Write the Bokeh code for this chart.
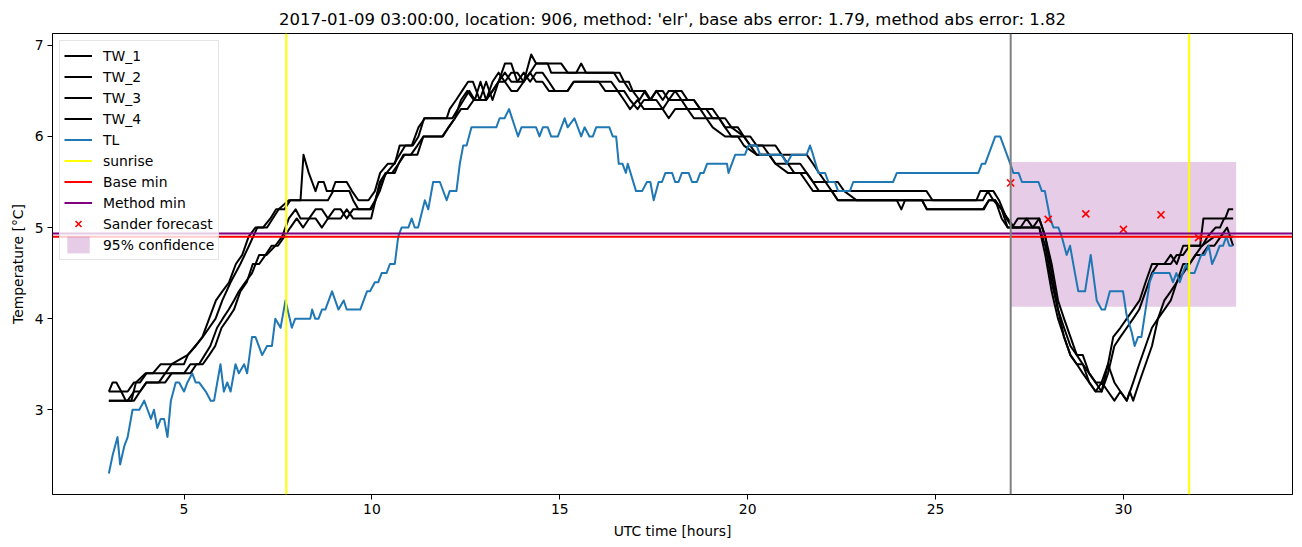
from bokeh.plotting import figure
from bokeh.models import Range1d, Span, Legend, LegendItem, FixedTicker
from bokeh.embed import file_html
from bokeh.resources import INLINE

TITLE = "2017-01-09 03:00:00, location: 906, method: 'elr', base abs error: 1.79, method abs error: 1.82"
X_LABEL = "UTC time [hours]"
Y_LABEL = "Temperature [°C]"

# (UTC hour, temperature)
TL = [(3.0,2.3),(3.1,2.5),(3.23,2.7),(3.3,2.4),(3.41,2.6),(3.5,2.7),(3.63,3.0),(3.81,3.0),(3.94,3.1),(4.03,3.0),
      (4.12,2.9),(4.2,3.0),(4.29,2.8),(4.38,2.9),(4.47,2.9),(4.56,2.7),(4.65,3.1),(4.78,3.3),(4.87,3.3),(5.0,3.2),
      (5.09,3.3),(5.22,3.4),(5.31,3.3),(5.4,3.3),(5.58,3.2),(5.71,3.1),(5.8,3.1),(5.97,3.5),(6.06,3.2),(6.15,3.3),
      (6.24,3.2),(6.37,3.5),(6.46,3.4),(6.6,3.5),(6.68,3.4),(6.81,3.8),(6.9,3.8),(7.08,3.6),(7.21,3.7),(7.34,3.7),
      (7.43,4.0),(7.57,3.9),(7.7,4.2),(7.87,3.9),(7.96,4.0),(8.36,4.0),(8.41,4.1),(8.49,4.0),(8.58,4.0),(8.67,4.1),
      (8.76,4.1),(8.94,4.3),(9.11,4.1),(9.25,4.2),(9.33,4.1),(9.69,4.1),(9.87,4.3),(9.95,4.3),
      (10.08,4.4),(10.17,4.4),(10.26,4.5),(10.39,4.5),(10.48,4.6),(10.61,4.6),(10.7,4.9),(10.79,5.0),(10.97,5.0),
      (11.06,5.1),(11.14,5.0),(11.23,5.0),(11.41,5.3),(11.5,5.2),(11.63,5.5),(11.81,5.5),(11.99,5.3),(12.07,5.4),
      (12.25,5.4),(12.34,5.7),(12.43,5.9),(12.52,5.9),(12.65,6.1),(13.31,6.1),(13.4,6.2),(13.53,6.2),(13.65,6.3),
      (13.89,6.0),(13.98,6.1),(14.37,6.1),(14.46,6.0),(14.55,6.1),(14.68,6.1),(14.77,6.0),(14.95,6.0),(15.13,6.2),
      (15.21,6.1),(15.39,6.2),(15.57,6.0),(15.66,6.1),(15.79,6.0),(15.88,6.0),(15.97,6.1),(16.32,6.1),(16.41,6.0),
      (16.5,6.0),(16.57,5.7),(16.67,5.7),(16.76,5.6),(16.81,5.7),(17.03,5.4),
      (17.19,5.4),(17.32,5.5),(17.41,5.5),(17.5,5.3),(17.63,5.5),(17.72,5.5),(17.81,5.6),(17.99,5.6),(18.07,5.5),
      (18.16,5.5),(18.25,5.6),(18.43,5.6),(18.52,5.5),(18.65,5.5),(18.74,5.6),(18.83,5.6),(18.92,5.7),(19.45,5.7),
      (19.49,5.6),(19.67,5.8),(19.93,5.8),(20.02,5.9),(20.24,5.9),(20.33,5.8),(20.91,5.8),(21.04,5.7),(21.17,5.8),
      (21.57,5.8),(21.66,5.9),(21.74,5.8),(21.88,5.6),(22.06,5.6),(22.15,5.5),(22.32,5.5),(22.41,5.4),(22.72,5.4),
      (22.81,5.5),(23.87,5.5),(23.97,5.6),
      (26.14,5.6),(26.23,5.7),(26.32,5.7),(26.59,6.0),(26.72,6.0),(26.99,5.7),(27.07,5.6),(27.21,5.6),(27.3,5.5),
      (27.74,5.5),(27.83,5.4),(27.91,5.4),(28.05,5.1),(28.14,5.0),(28.27,5.0),(28.36,4.9),(28.49,4.7),(28.58,4.8),
      (28.71,4.5),(28.8,4.3),(28.98,4.3),(29.13,4.7),(29.29,4.2),(29.42,4.1),(29.51,4.1),(29.64,4.3),(29.99,4.3),
      (30.08,4.05),(30.22,3.85),(30.3,3.7),(30.39,3.8),(30.48,3.8),(30.7,4.4),(30.79,4.5),(31.23,4.5),(31.32,4.4),
      (31.41,4.5),(31.5,4.4),(31.58,4.5),(31.67,4.6),(31.76,4.5),(31.89,4.5),(31.98,4.6),(32.07,4.7),(32.16,4.7),
      (32.27,4.8),(32.36,4.6),(32.47,4.7),(32.56,4.8),(32.65,4.8),(32.74,4.9),(32.82,4.8),(32.91,4.8)]

TW_1 = [(3.0,3.2),(3.1,3.3),(3.2,3.3),(3.33,3.2),(3.5,3.2),(3.67,3.3),(3.83,3.3),(4.0,3.4),(4.17,3.4),(4.38,3.5),
        (5.0,3.5),(5.1,3.6),(5.3,3.7),(5.5,3.8),(5.67,3.9),(5.84,4.0),(6.02,4.2),(6.24,4.4),(6.5,4.6),(6.73,4.8),
        (6.95,5.0),(7.21,5.0),(7.52,5.2),(7.79,5.3),(8.1,5.3),(8.18,5.8),(8.32,5.6),(8.41,5.5),(8.5,5.4),(8.58,5.5),
        (8.72,5.5),(8.8,5.4),(8.94,5.4),(9.03,5.5),(9.33,5.5),(9.47,5.4),(9.64,5.3),(9.91,5.3),
        (10.08,5.4),(10.22,5.6),(10.42,5.7),(10.61,5.7),(10.74,5.9),(11.06,5.9),(11.24,6.1),(11.41,6.2),(11.99,6.2),
        (12.07,6.3),(12.24,6.4),(12.4,6.5),(12.56,6.6),(12.69,6.6),(12.87,6.4),(13.04,6.6),(13.21,6.4),(13.37,6.6),
        (13.54,6.8),(13.71,6.8),(13.87,6.6),(14.04,6.6),(14.24,6.9),(14.37,6.8),(14.68,6.8),(14.77,6.7),(15.44,6.7),
        (15.57,6.8),(15.7,6.7),(16.59,6.7),(16.71,6.6),(16.84,6.6),(16.94,6.5),
        (17.12,6.4),(17.27,6.5),(17.42,6.4),(17.57,6.5),(17.74,6.4),(17.9,6.5),(18.24,6.5),(18.4,6.4),(18.57,6.4),
        (18.74,6.3),(19.07,6.3),(19.24,6.2),(19.4,6.1),(19.74,6.1),(19.9,6.0),(20.07,5.9),(20.4,5.9),(20.57,5.8),
        (20.9,5.8),(21.07,5.7),(21.4,5.7),(21.57,5.6),(21.74,5.5),(22.07,5.5),(22.24,5.4),
        (24.76,5.4),(24.92,5.3),(26.09,5.3),(26.19,5.4),(26.54,5.4),(26.69,5.3),(26.89,5.1),(27.04,5.0),(27.19,5.1),
        (27.76,5.1),(27.92,4.9),(28.09,4.6),(28.26,4.2),(28.42,4.0),(28.59,3.8),(28.76,3.6),(28.92,3.6),(29.09,3.4),
        (29.26,3.3),(29.42,3.3),(29.59,3.5),(29.73,3.8),(29.92,3.9),(30.09,4.0),(30.26,4.1),(30.43,4.2),(30.59,4.4),
        (30.76,4.6),(31.09,4.6),(31.26,4.7),(31.42,4.6),(31.59,4.8),(32.04,4.8),(32.13,5.1),(32.71,5.1),(32.8,5.2),
        (32.92,5.2)]

TW_2 = [(3.0,3.2),(3.33,3.2),(3.45,3.1),(3.6,3.1),(3.72,3.3),(3.98,3.4),(4.5,3.4),(4.67,3.5),(5.09,3.6),(5.31,3.7),
        (5.49,3.8),(5.67,4.0),(5.85,4.2),(6.02,4.3),(6.2,4.4),(6.38,4.6),(6.55,4.7),(6.72,4.9),(6.9,5.0),(7.1,5.0),
        (7.3,5.1),(7.45,5.2),(7.67,5.2),(7.83,5.3),(8.83,5.3),(8.97,5.4),(9.4,5.4),(9.5,5.3),(9.64,5.2),(9.95,5.2),
        (10.09,5.3),(10.24,5.5),(10.39,5.6),(10.59,5.7),(10.74,5.8),(10.89,5.9),(11.09,5.9),(11.24,6.0),(11.39,6.2),
        (11.94,6.2),(12.14,6.2),(12.29,6.3),(12.44,6.4),(12.59,6.5),(12.74,6.4),(12.89,6.6),(13.04,6.4),(13.21,6.6),
        (13.37,6.7),(13.54,6.6),(13.71,6.7),(13.87,6.7),(14.04,6.6),(14.21,6.7),(14.37,6.8),(15.04,6.8),(15.21,6.7),
        (16.44,6.7),(16.59,6.6),(16.71,6.6),(16.87,6.5),
        (17.24,6.5),(17.4,6.4),(17.57,6.5),(17.74,6.5),(17.9,6.4),(18.07,6.5),(18.24,6.4),(18.57,6.4),(18.74,6.3),
        (18.9,6.3),(19.07,6.2),(19.4,6.2),(19.57,6.1),(19.9,6.0),(20.07,6.0),(20.24,5.9),(20.74,5.9),(20.9,5.8),
        (21.57,5.8),(21.74,5.7),(21.9,5.6),(22.07,5.5),(22.4,5.5),(22.57,5.4),(22.9,5.3),
        (26.26,5.3),(26.39,5.4),(26.54,5.3),(26.76,5.2),(26.92,5.1),(27.09,5.0),(27.26,5.0),(27.42,5.1),(27.59,5.0),
        (27.76,5.1),(27.92,4.9),(28.09,4.5),(28.26,4.1),(28.42,3.9),(28.59,3.7),(28.76,3.6),(28.92,3.5),(29.09,3.4),
        (29.26,3.3),(29.42,3.2),(29.59,3.4),(29.76,3.7),(29.92,3.8),(30.09,3.9),(30.26,4.0),(30.42,4.1),(30.59,4.3),
        (30.76,4.5),(30.92,4.6),(31.26,4.6),(31.42,4.7),(31.59,4.7),(31.76,4.8),(32.1,4.8),(32.24,4.9),(32.45,5.0),
        (32.57,5.0),(32.68,5.1),(32.92,5.1)]

TW_3 = [(3.0,3.1),(3.5,3.1),(3.67,3.2),(3.83,3.2),(4.0,3.3),(4.33,3.3),(4.5,3.4),(5.0,3.4),(5.17,3.5),(5.4,3.5),
        (5.55,3.6),(5.7,3.7),(5.88,3.9),(6.03,4.0),(6.19,4.1),(6.33,4.2),(6.46,4.3),(6.63,4.4),(6.81,4.5),(7.0,4.7),
        (7.2,4.7),(7.43,4.8),(7.61,4.9),(7.79,5.1),(7.97,5.2),(8.1,5.1),(8.33,5.1),(8.5,5.2),(8.67,5.2),(8.83,5.1),
        (9.0,5.2),(9.17,5.2),(9.33,5.1),(9.5,5.2),(9.98,5.2),
        (10.21,5.4),(10.37,5.6),(10.61,5.6),(10.71,5.7),(10.84,5.8),(11.04,5.8),(11.21,5.9),(11.37,6.0),(11.89,6.0),
        (12.04,6.1),(12.21,6.2),(12.37,6.4),(12.54,6.5),(12.71,6.4),(13.04,6.4),(13.21,6.5),(13.37,6.6),(13.54,6.7),
        (13.71,6.6),(13.87,6.6),(14.04,6.7),(14.21,6.6),(14.37,6.7),(14.54,6.7),(14.71,6.6),(14.87,6.5),(15.21,6.5),
        (15.37,6.6),(16.37,6.6),(16.54,6.5),(16.71,6.5),(16.87,6.4),
        (17.07,6.3),(17.24,6.4),(17.57,6.4),(17.74,6.3),(17.9,6.4),(18.24,6.4),(18.4,6.3),(18.74,6.3),(18.9,6.2),
        (19.24,6.2),(19.4,6.1),(19.57,6.0),(19.9,6.0),(20.07,5.9),(20.24,5.8),(20.57,5.8),(20.74,5.7),(21.07,5.7),
        (21.24,5.6),(21.57,5.6),(21.74,5.5),(21.9,5.4),(22.24,5.4),(22.4,5.3),(23.97,5.3),
        (24.09,5.2),(24.19,5.3),(24.64,5.3),(24.77,5.2),(26.29,5.2),(26.42,5.3),(26.59,5.3),(26.76,5.2),(26.92,5.0),
        (27.76,5.0),(27.92,4.8),(28.09,4.4),(28.26,4.1),(28.42,3.8),(28.59,3.6),(28.76,3.5),(28.92,3.5),(29.09,3.3),
        (29.26,3.2),(29.42,3.2),(29.59,3.5),(29.76,3.3),(29.92,3.2),(30.09,3.1),(30.17,3.2),(30.26,3.1),(30.42,3.3),
        (30.59,3.5),(30.76,3.7),(30.92,4.0),(31.09,4.1),(31.26,4.2),(31.42,4.4),(31.59,4.5),(31.76,4.6),(31.92,4.7),
        (32.09,4.8),(32.42,4.9),(32.59,4.9),(32.76,5.0),(32.92,4.8)]

TW_4 = [(3.0,3.1),(3.67,3.1),(3.83,3.2),(4.0,3.3),(4.5,3.3),(4.67,3.4),(5.17,3.4),(5.33,3.5),(5.5,3.5),(5.67,3.6),
        (5.83,3.7),(6.0,3.9),(6.17,4.0),(6.33,4.1),(6.5,4.3),(6.67,4.4),(6.83,4.6),(7.0,4.6),(7.17,4.7),(7.33,4.8),
        (7.5,4.8),(7.67,4.9),(7.83,5.0),(8.0,5.1),(8.17,5.0),(8.33,5.1),(8.5,5.1),(8.67,5.0),(8.83,5.1),(9.17,5.1),
        (9.33,5.2),(9.5,5.1),(9.98,5.1),
        (10.21,5.5),(10.37,5.6),(10.54,5.6),(10.71,5.7),(10.87,5.8),(11.21,5.8),(11.37,6.0),(11.87,6.0),(12.04,6.1),
        (12.21,6.2),(12.37,6.3),(12.54,6.3),(12.71,6.4),(13.04,6.4),(13.21,6.5),(13.37,6.6),(13.54,6.6),(13.71,6.5),
        (13.87,6.5),(14.04,6.6),(14.21,6.7),(14.37,6.6),(14.54,6.6),(14.71,6.5),(15.21,6.5),(15.37,6.6),(16.04,6.6),
        (16.21,6.5),(16.54,6.5),(16.71,6.4),(16.87,6.3),
        (17.07,6.4),(17.24,6.3),(17.74,6.3),(17.9,6.2),(18.07,6.3),(18.4,6.3),(18.57,6.2),(18.9,6.2),(19.07,6.1),
        (19.4,6.0),(19.74,6.0),(19.9,5.9),(20.24,5.8),(20.57,5.8),(20.74,5.7),(21.07,5.6),(21.4,5.6),(21.57,5.5),
        (21.74,5.4),(22.24,5.4),(22.4,5.3),
        (24.64,5.3),(24.77,5.2),(26.26,5.2),(26.42,5.3),(26.59,5.3),(26.76,5.1),(26.92,5.0),(27.76,5.0),(27.92,4.7),
        (28.09,4.3),(28.26,4.0),(28.42,3.8),(28.59,3.6),(28.76,3.5),(28.92,3.4),(29.09,3.3),(29.26,3.2),(29.42,3.3),
        (29.59,3.2),(29.76,3.1),(29.92,3.2),(30.09,3.1),(30.26,3.3),(30.42,3.5),(30.59,3.7),(30.76,3.9),(30.92,4.0),
        (31.09,4.2),(31.26,4.3),(31.42,4.4),(31.59,4.6),(31.76,4.6),(31.92,4.7),(32.09,4.7),(32.26,4.8),(32.42,4.8),
        (32.59,4.9),(32.76,4.9),(32.92,4.9)]

sunrise_hours = [7.72, 31.75]
forecast_start = 27.0
base_min = 4.90
method_min = 4.935
sander_hours = [27.0, 28.0, 29.0, 30.0, 31.0, 32.0]
sander_temp = [5.49, 5.09, 5.15, 4.98, 5.14, 4.89]
conf_start = [27.0]
conf_end = [33.0]
conf_low = [4.13]
conf_high = [5.72]
x_ticks = [5, 10, 15, 20, 25, 30]
y_ticks = [3, 4, 5, 6, 7]

FONT = "DejaVu Sans"
NAN = float("nan")

p = figure(width=1302, height=547, x_range=Range1d(1.5, 34.5), y_range=Range1d(2.07, 7.13),
           output_backend="svg", toolbar_location=None,
           min_border_left=52, min_border_right=10, min_border_top=33, min_border_bottom=53)
p.background_fill_color = "white"
p.border_fill_color = "white"
p.outline_line_color = "black"
p.outline_line_width = 1
p.xgrid.visible = False
p.ygrid.visible = False

p.title.text = TITLE
p.title.align = "center"
p.title.text_font = FONT
p.title.text_font_size = "16.5px"
p.title.text_font_style = "normal"
p.title.text_color = "black"

for ax, ticks, label in ((p.xaxis, x_ticks, X_LABEL), (p.yaxis, y_ticks, Y_LABEL)):
    ax.ticker = FixedTicker(ticks=ticks)
    ax.axis_label = label
    ax.axis_label_text_font = FONT
    ax.axis_label_text_font_size = "13.9px"
    ax.axis_label_text_font_style = "normal"
    ax.axis_label_text_color = "black"
    ax.major_label_text_font = FONT
    ax.major_label_text_font_size = "13.9px"
    ax.major_label_text_color = "black"
    ax.major_tick_out = 5
    ax.major_tick_in = 0
    ax.minor_tick_line_color = None
    ax.axis_line_color = "black"
    ax.major_tick_line_color = "black"
    ax.major_label_standoff = 4
    ax.axis_label_standoff = 6

# confidence box (behind lines)
r_conf = p.quad(left=conf_start, right=conf_end, bottom=conf_low, top=conf_high,
                fill_color="purple", fill_alpha=0.2, line_color=None)

tw_renderers = []
for series in (TW_1, TW_2, TW_3, TW_4):
    hrs = [h for h, _ in series]
    vals = [v for _, v in series]
    tw_renderers.append(p.line(hrs, vals, line_color="black", line_width=2, line_join="round"))

r_tl = p.line([h for h, _ in TL], [v for _, v in TL], line_color="#1f77b4", line_width=2, line_join="round")

for s in sunrise_hours:
    p.add_layout(Span(location=s, dimension="height", line_color="yellow", line_width=2))
p.add_layout(Span(location=base_min, dimension="width", line_color="red", line_width=2))
p.add_layout(Span(location=method_min, dimension="width", line_color="purple", line_width=2))
p.add_layout(Span(location=forecast_start, dimension="height", line_color="gray", line_width=2))

r_sander = p.scatter(sander_hours, sander_temp, marker="x", size=10, line_color="red", line_width=1.6)

# legend-only renderers for the span lines (not visible on the plot)
r_sun = p.line(sunrise_hours, [NAN, NAN], line_color="yellow", line_width=2)
r_base = p.line([NAN], [base_min], line_color="red", line_width=2)
r_meth = p.line([NAN], [method_min], line_color="purple", line_width=2)

items = [LegendItem(label=f"TW_{i+1}", renderers=[r]) for i, r in enumerate(tw_renderers)]
items += [LegendItem(label="TL", renderers=[r_tl]),
          LegendItem(label="sunrise", renderers=[r_sun]),
          LegendItem(label="Base min", renderers=[r_base]),
          LegendItem(label="Method min", renderers=[r_meth]),
          LegendItem(label="Sander forecast", renderers=[r_sander]),
          LegendItem(label="95% confidence", renderers=[r_conf])]
legend = Legend(items=items, location="top_left")
legend.label_text_font = FONT
legend.label_text_font_size = "13.9px"
legend.label_text_color = "black"
legend.glyph_width = 28
legend.glyph_height = 21
legend.label_height = 21
legend.spacing = 0
legend.padding = 4
legend.margin = 7
legend.label_standoff = 11
legend.border_line_color = "#cccccc"
legend.border_line_width = 1
legend.background_fill_color = "white"
legend.background_fill_alpha = 0.8
p.add_layout(legend)

open("out.html", "w").write(file_html(p, INLINE))
